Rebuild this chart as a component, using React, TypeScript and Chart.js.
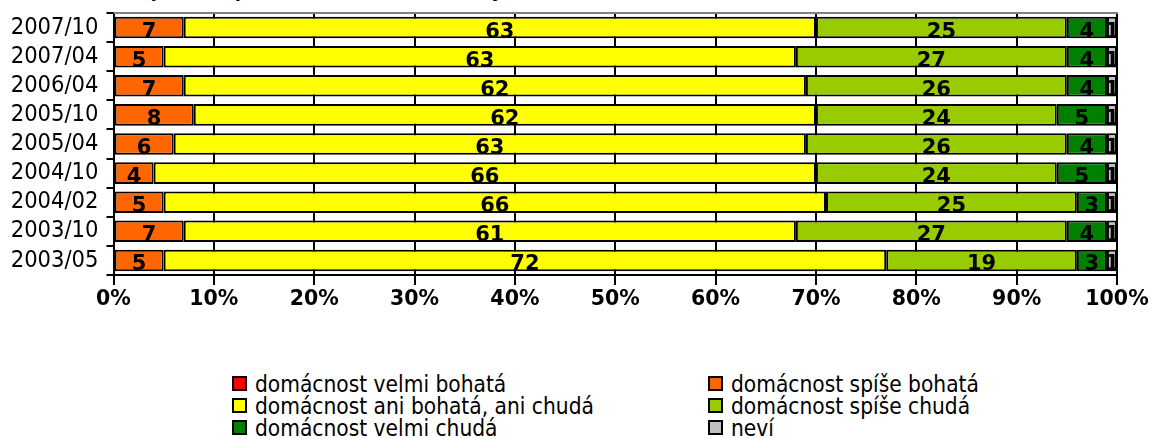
import React, { useEffect, useRef } from 'react';
import { Chart, registerables } from 'chart.js';

Chart.register(...registerables);

const categories = ['2007/10', '2007/04', '2006/04', '2005/10', '2005/04', '2004/10', '2004/02', '2003/10', '2003/05'];
const velmiBohata = [0, 0, 0, 0, 0, 0, 0, 0, 0];
const spiseBohata = [7, 5, 7, 8, 6, 4, 5, 7, 5];
const aniBohataAniChuda = [63, 63, 62, 62, 63, 66, 66, 61, 72];
const spiseChuda = [25, 27, 26, 24, 26, 24, 25, 27, 19];
const velmiChuda = [4, 4, 4, 5, 4, 5, 3, 4, 3];
const nevi = [1, 1, 1, 1, 1, 1, 1, 1, 1];
const xTickValues = [0, 10, 20, 30, 40, 50, 60, 70, 80, 90, 100];

const seriesNames = [
  'domácnost velmi bohatá',
  'domácnost spíše bohatá',
  'domácnost ani bohatá, ani chudá',
  'domácnost spíše chudá',
  'domácnost velmi chudá',
  'neví',
];
const seriesData = [velmiBohata, spiseBohata, aniBohataAniChuda, spiseChuda, velmiChuda, nevi];
const seriesColors = ['#FF0000', '#FF6600', '#FFFF00', '#99CC00', '#008000', '#C0C0C0'];
const titleText = 'Subjektivní pocit bohatství či chudoby domácnosti v letech 2003–2007 (v %)';

const COND = '"DejaVu Sans Condensed", "DejaVu Sans", sans-serif';
const SANS = '"DejaVu Sans", sans-serif';

const segmentLabels = {
  id: 'segmentLabels',
  afterDatasetsDraw(chart: any) {
    const ctx = chart.ctx;
    chart.data.datasets.forEach((ds: any, di: number) => {
      const meta = chart.getDatasetMeta(di);
      meta.data.forEach((bar: any, i: number) => {
        const v = ds.data[i];
        if (!v) return;
        const p = bar.getProps(['x', 'y', 'base', 'height'], true);
        const left = Math.min(p.x, p.base);
        const right = Math.max(p.x, p.base);
        ctx.save();
        ctx.beginPath();
        ctx.rect(left, p.y - p.height / 2, right - left + 1, p.height);
        ctx.clip();
        ctx.font = `bold 21px ${SANS}`;
        ctx.fillStyle = '#000';
        ctx.textAlign = 'center';
        ctx.textBaseline = 'alphabetic';
        ctx.fillText(String(v), (left + right) / 2, p.y + 10);
        ctx.restore();
      });
    });
  },
};

const topBorder = {
  id: 'topBorder',
  afterDraw(chart: any) {
    const { ctx, chartArea } = chart;
    ctx.save();
    ctx.strokeStyle = '#808080';
    ctx.lineWidth = 2;
    ctx.beginPath();
    ctx.moveTo(chartArea.left, chartArea.top);
    ctx.lineTo(chartArea.right + 1, chartArea.top);
    ctx.stroke();
    ctx.restore();
  },
};

export default function App() {
  const ref = useRef<HTMLCanvasElement>(null);

  useEffect(() => {
    if (!ref.current) return;
    const chart = new Chart(ref.current, {
      type: 'bar',
      data: {
        labels: categories,
        datasets: seriesNames.map((name, i) => ({
          label: name,
          data: seriesData[i],
          backgroundColor: seriesColors[i],
          borderColor: '#000',
          borderWidth: i === 0 ? 0 : 2,
          borderSkipped: false,
          barPercentage: 0.74,
          categoryPercentage: 1.0,
        })),
      },
      options: {
        indexAxis: 'y',
        responsive: false,
        animation: false,
        layout: { padding: { top: 13, right: 35, left: 0, bottom: 0 } },
        plugins: {
          legend: { display: false },
          title: { display: false },
          tooltip: { enabled: false },
        },
        scales: {
          x: {
            stacked: true,
            min: 0,
            max: 100,
            afterBuildTicks: (s: any) => {
              s.ticks = xTickValues.map((v) => ({ value: v }));
            },
            ticks: {
              callback: (v: any) => v + '%',
              color: '#000',
              font: { family: SANS, size: 20.5, weight: 'bold' },
              padding: 2,
              maxRotation: 0,
            },
            grid: { color: '#000', lineWidth: 2, tickLength: 10, drawTicks: true },
            border: { color: '#000', width: 2 },
            afterFit: (s: any) => {
              s.height = 55;
            },
          },
          y: {
            stacked: true,
            ticks: {
              color: '#000',
              font: { family: COND, size: 23.5 },
              padding: 8,
              autoSkip: false,
            },
            grid: { drawOnChartArea: false, color: '#000', lineWidth: 2, tickLength: 7, offset: true },
            border: { color: '#000', width: 2 },
            afterFit: (s: any) => {
              s.width = 113.5;
              s.paddingTop = 0;
              s.paddingBottom = 0;
            },
          },
        },
      },
      plugins: [segmentLabels, topBorder],
    } as any);
    return () => chart.destroy();
  }, []);

  const legendCols = [232, 708];
  const legendRowsBaseline = [391.5, 413.5, 435.5];

  return (
    <div style={{ position: 'absolute', left: 0, top: 0, width: 1152, height: 439, overflow: 'hidden', background: '#fff' }}>
      <div
        style={{
          position: 'absolute',
          left: 114,
          top: -22,
          whiteSpace: 'nowrap',
          font: `bold 20px ${COND}`,
          lineHeight: '24px',
          color: '#000',
        }}
      >
        {titleText}
      </div>
      <canvas ref={ref} width={1152} height={330} style={{ position: 'absolute', left: 0, top: 0, display: 'block' }} />
      {seriesNames.map((name, i) => {
        const col = i % 2;
        const row = Math.floor(i / 2);
        const bx = legendCols[col];
        const base = legendRowsBaseline[row];
        return (
          <React.Fragment key={name}>
            <div
              style={{
                position: 'absolute',
                left: bx,
                top: base - 15.5,
                width: 15,
                height: 15,
                boxSizing: 'border-box',
                border: '2px solid #000',
                background: seriesColors[i],
              }}
            />
            <div
              style={{
                position: 'absolute',
                left: bx + 23,
                top: base - 19,
                whiteSpace: 'nowrap',
                font: `22.5px ${COND}`,
                lineHeight: '22px',
                color: '#000',
              }}
            >
              {name}
            </div>
          </React.Fragment>
        );
      })}
    </div>
  );
}
